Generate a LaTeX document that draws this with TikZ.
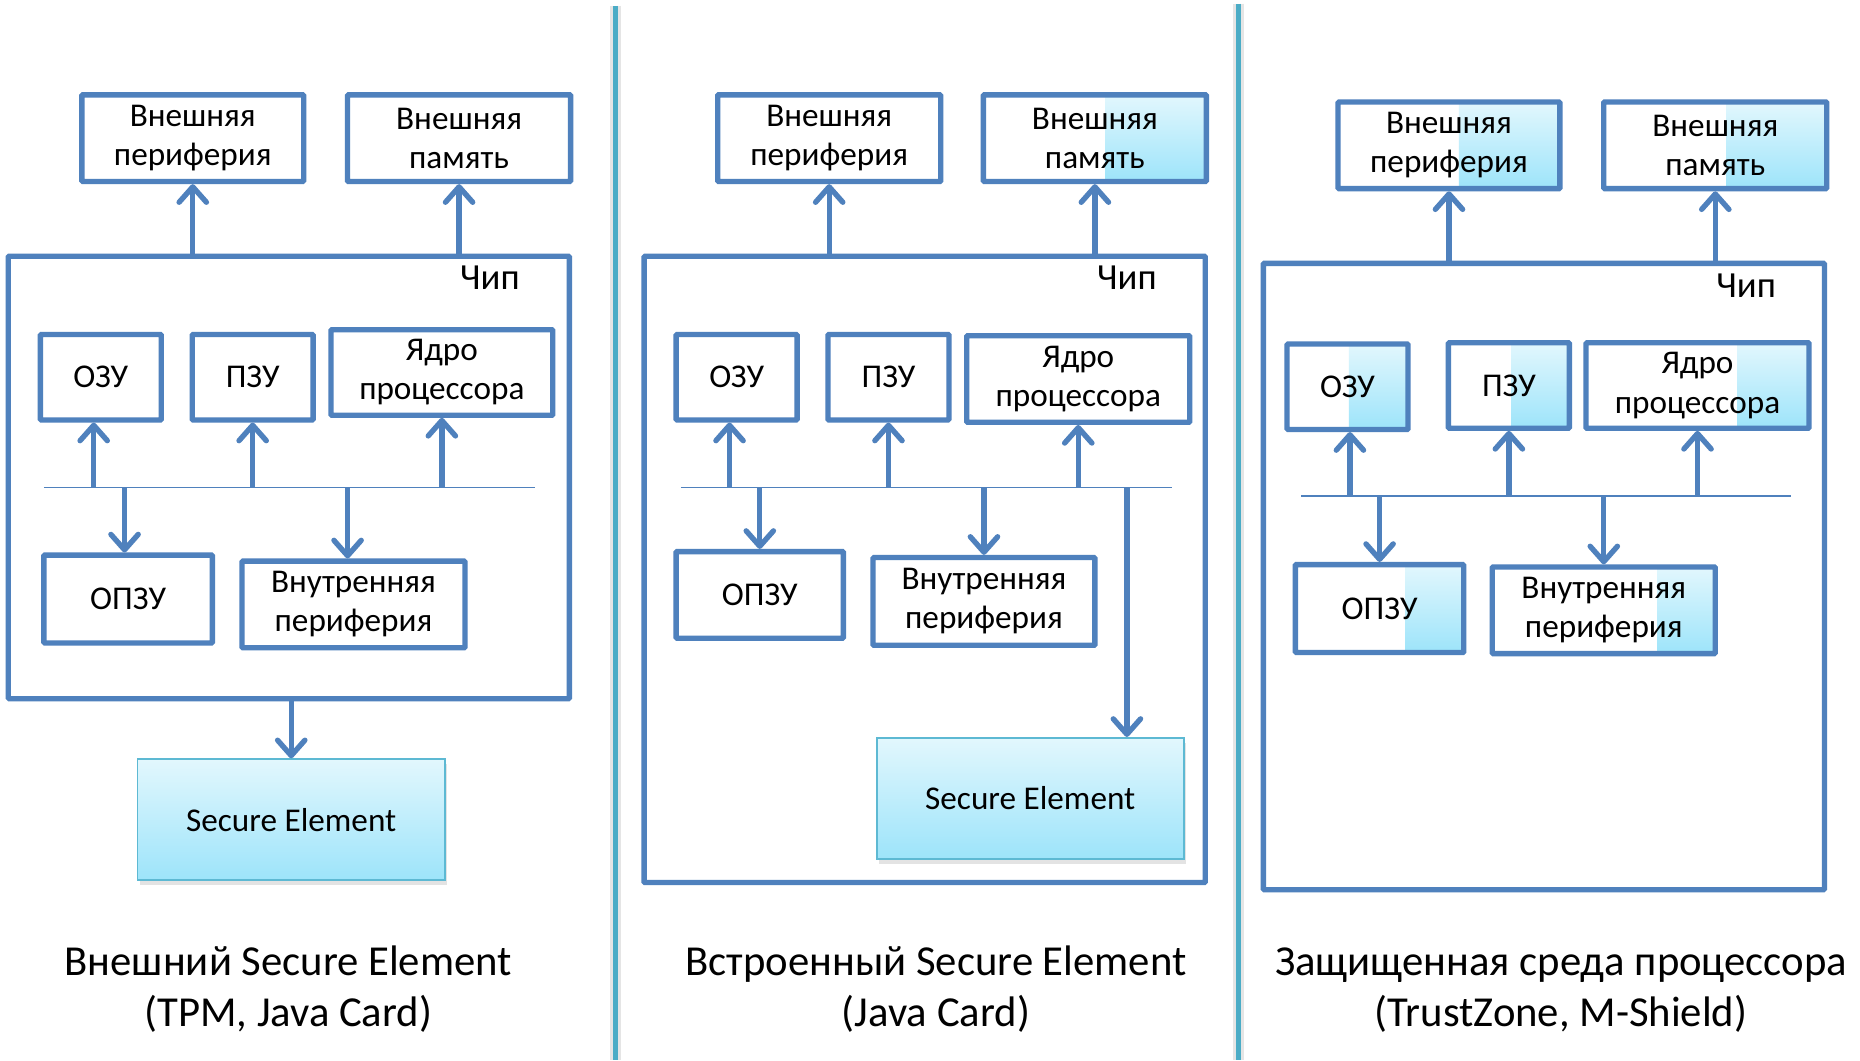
\documentclass[tikz,border=0pt]{standalone}
\usepackage{fontspec}
\setmainfont{Carlito}
\usetikzlibrary{arrows.meta,calc,shadows}

\definecolor{lineblue}{HTML}{4F81BD}
\definecolor{sepcyan}{HTML}{4BACC6}
\definecolor{gradtop}{HTML}{E2F7FD}
\definecolor{gradbot}{HTML}{9DE4FA}
\definecolor{seborder}{HTML}{5DB9D3}

\newcommand\boxfont{\fontsize{28}{33}\selectfont}
\newcommand\chipfont{\fontsize{31}{36}\selectfont}
\newcommand\titlefont{\fontsize{36}{43}\selectfont}

\tikzset{
  blk/.style={draw=lineblue, line width=4.5pt, fill=white, inner sep=0pt,
    align=center, font=\boxfont, rounded corners=0.8pt},
  part/.style={path picture={
      \shade[top color=gradtop, bottom color=gradbot]
        ($(path picture bounding box.north west)!#1!(path picture bounding box.north east)$)
        rectangle (path picture bounding box.south east);}},
  sebox/.style={draw=seborder, line width=1.5pt, top color=gradtop, bottom color=gradbot,
    inner sep=0pt, align=center, font=\boxfont,
    drop shadow={shadow xshift=2pt, shadow yshift=-4pt, opacity=0.22}},
  conn/.style={draw=lineblue, line width=4.5pt,
    -{Straight Barb[length=13pt, width=23pt, line cap=round, line join=round]}},
  bus/.style={draw=lineblue, line width=1.4pt},
  sep/.style={draw=sepcyan, line width=4pt},
  chiplbl/.style={font=\chipfont, inner sep=0pt},
  title/.style={font=\titlefont, align=center, inner sep=0pt},
}

% box from corner (x1,y1) to corner (x2,y2), y measured downwards
\newcommand\mkbox[7][]{%
  \node[blk,#1,minimum width={(#5-#3)*1pt},minimum height={(#6-#4)*1pt}]
    (#2) at ({(#3+#5)/2},{(#4+#6)/2+1}) {#7};}
\newcommand\mkse[6]{%
  \node[sebox,minimum width={(#4-#2)*1pt},minimum height={(#5-#3)*1pt}]
    (#1) at ({(#2+#4)/2},{(#3+#5)/2}) {#6};}

\begin{document}
\begin{tikzpicture}[x=1pt, y=-1pt]
\fill[white] (0,0) rectangle (1568,894);
\useasboundingbox (0,0) rectangle (1568,894);

% column separators
\coordinate (s1a) at (519,5);   \coordinate (s1b) at (519,894);
\coordinate (s2a) at (1044,3);  \coordinate (s2b) at (1044,894);
\draw[black!10, line width=9pt] (s1a) -- (s1b);
\draw[black!10, line width=9pt] (s2a) -- (s2b);
\draw[sep] (s1a) -- (s1b);
\draw[sep] (s2a) -- (s2b);

% ---------------- external Secure Element ----------------
\mkbox{p1chip}{7}{215}{480}{588}{}
\node[chiplbl] (p1lbl) at (413,234) {Чип};
\mkbox{p1per}{69}{79}{256}{152}{Внешняя\\периферия}
\mkbox{p1mem}{293}{79}{481}{152}{Внешняя\\память}
\mkbox{p1ozu}{34}{281}{136}{353}{ОЗУ}
\mkbox{p1pzu}{162}{281}{264}{353}{ПЗУ}
\mkbox{p1core}{279}{277}{466}{349}{Ядро\\процессора}
\mkbox{p1opzu}{37}{467}{179}{541}{ОПЗУ}
\mkbox{p1int}{204}{472}{392}{545}{Внутренняя\\периферия}
\mkse{p1se}{116}{640}{375}{742}{Secure Element}
\coordinate (b1l) at (37,411); \coordinate (b1r) at (451,411);
\draw[bus] (b1l) -- (b1r);
\draw[conn] (p1chip.north -| p1per) -- (p1per.south);
\draw[conn] (p1chip.north -| p1mem) -- (p1mem.south);
\draw[conn] ([xshift=-6pt]p1ozu.south |- b1l) -- ([xshift=-6pt]p1ozu.south);
\draw[conn] (p1pzu.south |- b1l) -- (p1pzu.south);
\draw[conn] (p1core.south |- b1l) -- (p1core.south);
\draw[conn] ([xshift=-3pt]p1opzu.north |- b1l) -- ([xshift=-3pt]p1opzu.north);
\draw[conn] ([xshift=-5pt]p1int.north |- b1l) -- ([xshift=-5pt]p1int.north);
\draw[conn] (p1chip.south -| p1se) -- (p1se.north);
\node[title] (p1title) at (243,834) {Внешний Secure Element\\(TPM, Java Card)};

% ---------------- embedded Secure Element ----------------
\mkbox{p2chip}{543}{215}{1016}{743}{}
\node[chiplbl] (p2lbl) at (950,234) {Чип};
\mkbox{p2per}{605}{79}{793}{152}{Внешняя\\периферия}
\mkbox[part=0.548]{p2mem}{829}{79}{1017}{152}{Внешняя\\память}
\mkbox{p2ozu}{570}{281}{672}{353}{ОЗУ}
\mkbox{p2pzu}{698}{281}{800}{353}{ПЗУ}
\mkbox{p2core}{815}{282}{1003}{355}{Ядро\\процессора}
\mkbox{p2opzu}{570}{464}{711}{537}{ОПЗУ}
\mkbox{p2int}{736}{469}{923}{543}{Внутренняя\\периферия}
\mkse{p2se}{739}{622}{998}{724}{Secure Element}
\coordinate (b2l) at (574,411); \coordinate (b2r) at (988,411);
\coordinate (b2t) at (950,411);
\draw[bus] (b2l) -- (b2r);
\draw[conn] (p2chip.north -| p2per) -- (p2per.south);
\draw[conn] (p2chip.north -| p2mem) -- (p2mem.south);
\draw[conn] ([xshift=-6pt]p2ozu.south |- b2l) -- ([xshift=-6pt]p2ozu.south);
\draw[conn] (p2pzu.south |- b2l) -- (p2pzu.south);
\draw[conn] (p2core.south |- b2l) -- (p2core.south);
\draw[conn] (p2opzu.north |- b2l) -- (p2opzu.north);
\draw[conn] (p2int.north |- b2l) -- (p2int.north);
\draw[conn] (b2t) -- (b2t |- p2se.north);
\node[title] (p2title) at (789,834) {Встроенный Secure Element\\(Java Card)};

% ---------------- protected processor environment ----------------
\mkbox{p3chip}{1065}{221}{1538}{749}{}
\node[chiplbl] (p3lbl) at (1472,241) {Чип};
\mkbox[part=0.545]{p3per}{1128}{85}{1315}{158}{Внешняя\\периферия}
\mkbox[part=0.548]{p3mem}{1352}{85}{1540}{158}{Внешняя\\память}
\mkbox[part=0.51]{p3ozu}{1085}{289}{1187}{361}{ОЗУ}
\mkbox[part=0.52]{p3pzu}{1221}{288}{1323}{360}{ПЗУ}
\mkbox[part=0.68]{p3core}{1337}{288}{1525}{360}{Ядро\\процессора}
\mkbox[part=0.655]{p3opzu}{1092}{475}{1234}{549}{ОПЗУ}
\mkbox[part=0.74]{p3int}{1258}{477}{1446}{550}{Внутренняя\\периферия}
\coordinate (b3l) at (1097,418); \coordinate (b3r) at (1510,418);
\draw[bus] (b3l) -- (b3r);
\draw[conn] (p3chip.north -| p3per) -- (p3per.south);
\draw[conn] (p3chip.north -| p3mem) -- (p3mem.south);
\draw[conn] ([xshift=2pt]p3ozu.south |- b3l) -- ([xshift=2pt]p3ozu.south);
\draw[conn] (p3pzu.south |- b3l) -- (p3pzu.south);
\draw[conn] (p3core.south |- b3l) -- (p3core.south);
\draw[conn] (p3opzu.north |- b3l) -- (p3opzu.north);
\draw[conn] (p3int.north |- b3l) -- (p3int.north);
\node[title] (p3title) at (1316,835) {Защищенная среда процессора\\(TrustZone, M-Shield)};
\end{tikzpicture}
\end{document}
